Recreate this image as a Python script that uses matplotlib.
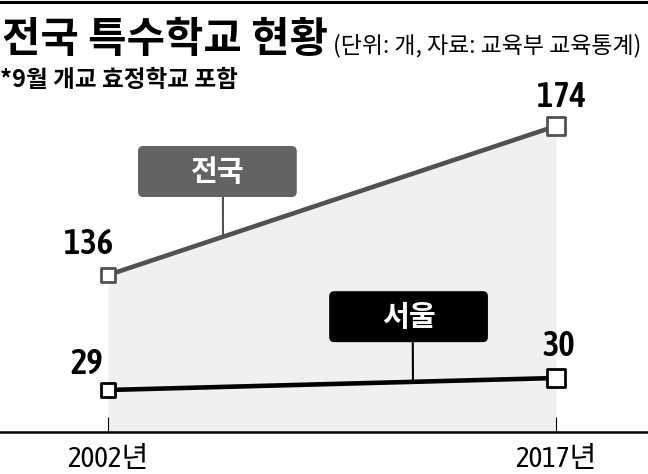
import numpy as np
import matplotlib
matplotlib.use('Agg')
import matplotlib.pyplot as plt
from matplotlib import font_manager
from matplotlib.patches import FancyBboxPatch
from matplotlib.lines import Line2D

years     = [2002, 2017]
year_lbls = ['2002년', '2017년']
national  = [136, 174]
seoul     = [29, 30]

title    = '전국 특수학교 현황'
subtitle = '(단위: 개, 자료: 교육부 교육통계)'
note     = '*9월 개교 효정학교 포함'

kr = 'Noto Sans CJK KR'
plt.rcParams['font.family'] = [kr, 'DejaVu Sans']

# look for a narrow latin face for the numbers
cands = []
for f in font_manager.fontManager.ttflist:
    if 'CJK' in f.name or 'Mono' in f.name or 'Serif' in f.name or f.style != 'normal':
        continue
    if f.stretch in ('condensed', 'extra-condensed', 'semi-condensed') or 'Narrow' in f.name or 'Condensed' in f.name:
        w = f.weight if isinstance(f.weight, int) else 400
        rank = (0 if f.stretch == 'condensed' else 1, abs(w - 600))
        cands.append((rank, f))
cands.sort(key=lambda t: t[0])
if cands:
    nf = cands[0][1]
    numprops = dict(family=[nf.name, kr], fontstretch=nf.stretch, fontweight=nf.weight)
    tickprops = dict(family=[nf.name, kr], fontstretch=nf.stretch, fontweight='normal')
else:
    numprops = dict(family=['DejaVu Sans', kr], fontstretch='condensed')
    tickprops = numprops

gray = '#515151'
boxgray = '#636363'

fig = plt.figure(figsize=(6.48, 4.74), dpi=100)
ax = fig.add_axes([0, 42/474, 1, 432/474])
ax2 = ax.twinx()

ax.set_xlim(1998.384, 2020.079)
ax.set_ylim(95.96, 206.14)
ax2.set_ylim(25.5, 61.5)

ax.fill_between(years, national, ax.get_ylim()[0], color='#f0f0f0', lw=0, zorder=1)
ax.plot(years, national, color=gray, lw=3.3, zorder=3)
ax.scatter(years, national, s=[100, 165], marker='s', facecolor='white', edgecolor=gray, linewidth=2, zorder=4)

ax2.plot(years, seoul, color='black', lw=3.3, zorder=3)
ax2.scatter(years, seoul, s=[100, 165], marker='s', facecolor='white', edgecolor='black', linewidth=2, zorder=4)

# value labels
for a, vals, offs in [(ax, national, [(-14, 22), (4, 21)]), (ax2, seoul, [(-15, 19), (2, 23)])]:
    for x, v, o in zip(years, vals, offs):
        a.annotate(str(v), (x, v), xytext=o, textcoords='offset points', ha='center', va='center',
                   fontsize=25, color='black', **numprops)

# label boxes with connectors
for a, name, x0, y0, fc, cx, cyear, vals, lc in [
        (ax, '전국', 0.213, 0.544, boxgray, 0.344, 2005.85, national, gray),
        (ax2, '서울', 0.508, 0.208, 'black', 0.637, 2012.21, seoul, 'black')]:
    box = FancyBboxPatch((x0, y0), 0.245, 0.118, boxstyle='round,pad=0,rounding_size=0.008',
                         mutation_aspect=648/432, transform=a.transAxes, fc=fc, ec='none', zorder=5)
    a.add_patch(box)
    a.text(x0 + 0.1225, y0 + 0.059, name, transform=a.transAxes, ha='center', va='center',
           fontsize=21, fontweight='bold', color='white', zorder=6)
    a.annotate('', xy=(cyear, np.interp(cyear, years, vals)), xytext=(cx, y0),
               textcoords='axes fraction',
               arrowprops=dict(arrowstyle='-', color=lc, lw=1.5, shrinkA=0, shrinkB=0), zorder=2)

for s in ['top', 'left', 'right']:
    ax.spines[s].set_visible(False)
    ax2.spines[s].set_visible(False)
ax2.spines['bottom'].set_visible(False)
ax.spines['bottom'].set_linewidth(1.8)
ax.set_yticks([])
ax2.set_yticks([])
ax.set_xticks(years)
ax.set_xticklabels(year_lbls, fontsize=21, **tickprops)
ax.tick_params(axis='x', direction='in', length=11, width=0.8, pad=10)
ax.patch.set_visible(False)

fig.add_artist(Line2D([0, 1], [1 - 1.5/474]*2, lw=2.2, color='black', transform=fig.transFigure))
fig.text(0.003, 1 - 40/474, title, fontsize=30, fontweight='heavy', va='center', ha='left')
fig.text(333/648, 1 - 46/474, subtitle, fontsize=16.5, va='center', ha='left')
fig.text(0.0, 1 - 80/474, note, fontsize=17, fontweight='bold', va='center', ha='left')

fig.savefig('out.png', dpi=100)
